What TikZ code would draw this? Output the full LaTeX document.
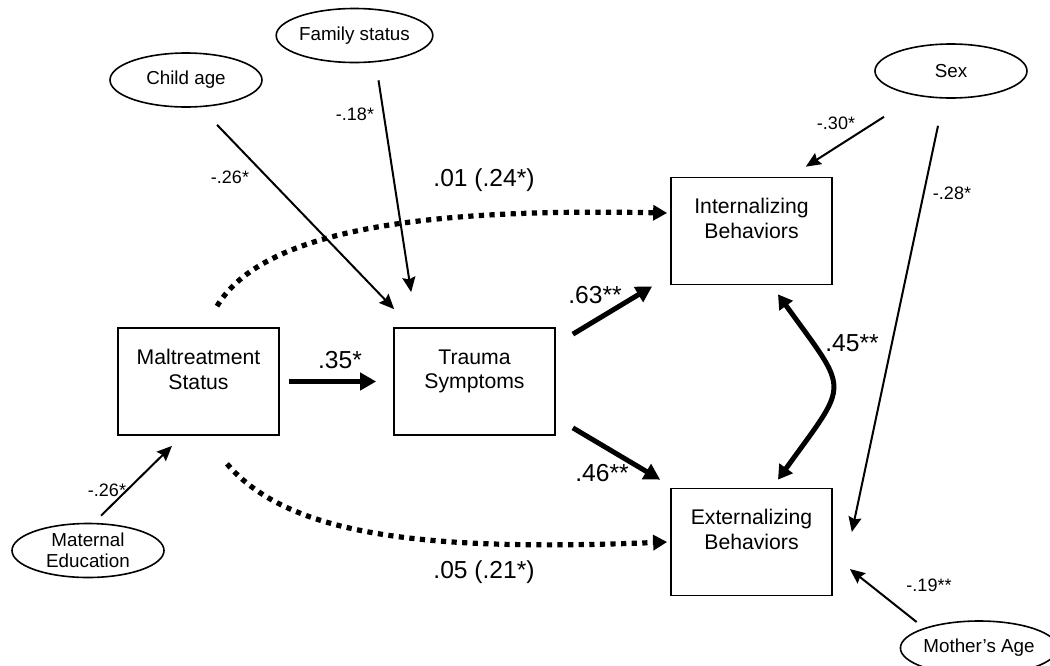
\documentclass[tikz,border=0pt]{standalone}
\usepackage{fontspec}
\setmainfont{Liberation Sans}
\usetikzlibrary{arrows.meta,shapes.geometric,calc}
\tikzstyle{factor}=[draw,line width=0.85pt,minimum width=80.5pt,minimum height=53.5pt,inner sep=0pt,align=center,font=\fontsize{10.6}{12.4}\selectfont]
\tikzstyle{covariate}=[draw,ellipse,line width=0.8pt,minimum width=76pt,minimum height=27pt,inner sep=0pt,align=center,font=\fontsize{9.4}{10.6}\selectfont]
\tikzstyle{effect} = [draw,line width=1pt,-{Stealth[length=7.5pt,width=6.5pt,inset=1pt]}]
\tikzstyle{bold effect} = [draw,line width=2.5pt,-{Triangle[length=8pt,width=8.5pt]}]
\tikzstyle{dotted effect} = [draw,line width=2.6pt,dash pattern=on 2.6pt off 2.7pt,-{Triangle[length=7pt,width=7.5pt]}]
\tikzstyle{weight} = [font=\fontsize{9}{10}\selectfont]
\tikzstyle{big weight} = [font=\fontsize{12.3}{14}\selectfont]

\begin{document}
\begin{tikzpicture}[x=0.5pt, y=-0.5pt]
			\useasboundingbox (0,0) rectangle (1050,665);
			% First we draw the measured variables
			\foreach \pos/\name/\txt in {{(198.5,381.5)/malt/{Maltreatment\\Status\\~}},
									{(474.5,381.5)/trauma/{Trauma\\Symptoms\\~}},
									{(751.5,231)/intern/{Internalizing\\Behaviors\\~}},
									{(751.5,542)/extern/{Externalizing\\Behaviors\\~}}}
			\node[factor] (\name) at \pos {\txt};

			% Then the covariates
			\foreach \pos/\name/\txt in {{(186,80)/child/{Child age}}, {(354.5,35.5)/family/{Family status}},
									{(951,71)/sex/{Sex}}, {(88,550.5)/maternal/{Maternal\\Education}},
									{(979,648)/mother/{Mother's Age}}}
			\node[covariate] (\name) at \pos {\txt};

			% Covariate paths
			\foreach \source/\sx/\sy/\dest/\dx/\dy in {child.south/31/17/trauma.north west/1/-18,
									family.south/24/17/trauma.north west/18/-35,
									maternal.north/13/-7/malt.south/-26.5/10,
									sex.south/-67/18/intern.north east/-27/-10,
									sex.south/-13/27/extern.east/19/-10,
									mother.west/17/-26/extern.east/17/27}
			\path[effect] ($(\source)+(\sx,\sy)$) -- ($(\dest)+(\dx,\dy)$);

			% Structural paths
			\foreach \source/\sx/\sy/\dest/\dx/\dy in {malt.east/9/0/trauma.west/-17/0,
									trauma.north east/17/7/intern.south west/-18/1,
									trauma.south east/17/-8/extern.north west/-10/-8}
			\path[bold effect] ($(\source)+(\sx,\sy)$) -- ($(\dest)+(\dx,\dy)$);

			% Direct effects (dotted)
			\path[dotted effect] ($(malt.north)+(18.5,-21)$) .. controls +(45,-75) and +(-250,-5) .. ($(intern.west)+(-3,-18)$);
			\path[dotted effect] ($(malt.south)+(28.5,28)$) .. controls +(60,70) and +(-250,10) .. ($(extern.west)+(-3,0)$);

			% Residual covariance
			\path[bold effect, {Triangle[length=7pt,width=8pt]}-{Triangle[length=7pt,width=8pt]}]
				($(intern.south)+(26.5,9)$) .. controls +(72,100) and +(72,-100) .. ($(extern.north)+(26.5,-8)$);

			% Weights
			\foreach \pos/\name/\txt in {{(230,177)/wchild/{-.26*}}, {(355,114)/wfamily/{-.18*}},
									{(107,490)/wmaternal/{-.26*}}, {(836,123)/wsexint/{-.30*}},
									{(952,193)/wsexext/{-.28*}}, {(929,585)/wmother/{-.19**}}}
			\node[weight] (\name) at \pos {\txt};

			\foreach \pos/\name/\txt in {{(484,180)/wint/{.01 (.24*)}}, {(340,360)/wtrauma/{.35*}},
									{(595,295)/wtint/{.63**}}, {(602,473)/wtext/{.46**}},
									{(852,343)/wcov/{.45**}}, {(484,572)/wext/{.05 (.21*)}}}
			\node[big weight] (\name) at \pos {\txt};

		\end{tikzpicture}
\end{document}
